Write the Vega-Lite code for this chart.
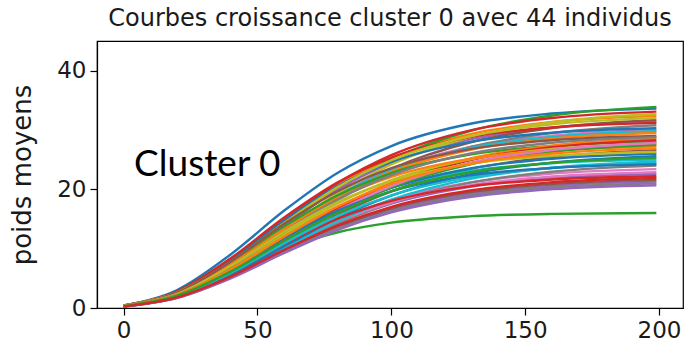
{
  "$schema": "https://vega.github.io/schema/vega-lite/v6.json",
  "width": 586,
  "height": 267,
  "autosize": {"type": "none"},
  "padding": {"left": 97, "top": 41, "right": 4, "bottom": 43},
  "background": "white",
  "title": {
    "text": "Courbes croissance cluster 0 avec 44 individus",
    "font": "DejaVu Sans",
    "fontSize": 24,
    "fontWeight": "normal",
    "color": "#1a1a1a",
    "anchor": "middle",
    "baseline": "alphabetic",
    "offset": 14,
    "dy": 23
  },
  "config": {
    "view": {"stroke": "black", "strokeWidth": 1.2},
    "axis": {
      "domainColor": "black",
      "domainWidth": 1.2,
      "tickColor": "black",
      "tickWidth": 1.2,
      "tickSize": 7,
      "labelFont": "DejaVu Sans",
      "labelFontSize": 23,
      "labelColor": "#1a1a1a",
      "labelPadding": 4,
      "grid": false,
      "titleFont": "DejaVu Sans",
      "titleFontWeight": "normal",
      "titleColor": "#1a1a1a"
    }
  },
  "datasets": {
    "courbes": [
      {"c":0,"t":0,"w":0.42},{"c":0,"t":20,"w":3.04},{"c":0,"t":40,"w":9.03},{"c":0,"t":60,"w":16.42},{"c":0,"t":80,"w":22.8},{"c":0,"t":100,"w":27.3},{"c":0,"t":130,"w":31.09},{"c":0,"t":160,"w":32.77},{"c":0,"t":199,"w":33.6},
      {"c":1,"t":0,"w":0.41},{"c":1,"t":20,"w":2.67},{"c":1,"t":40,"w":7.84},{"c":1,"t":60,"w":14.51},{"c":1,"t":80,"w":20.62},{"c":1,"t":100,"w":25.21},{"c":1,"t":130,"w":29.35},{"c":1,"t":160,"w":31.35},{"c":1,"t":199,"w":32.4},
      {"c":2,"t":0,"w":0.43},{"c":2,"t":20,"w":2.54},{"c":2,"t":40,"w":7.34},{"c":2,"t":60,"w":13.79},{"c":2,"t":80,"w":20.06},{"c":2,"t":100,"w":25.06},{"c":2,"t":130,"w":29.92},{"c":2,"t":160,"w":32.45},{"c":2,"t":199,"w":33.9},
      {"c":3,"t":0,"w":0.41},{"c":3,"t":20,"w":2.73},{"c":3,"t":40,"w":8.01},{"c":3,"t":60,"w":14.82},{"c":3,"t":80,"w":21.07},{"c":3,"t":100,"w":25.76},{"c":3,"t":130,"w":29.99},{"c":3,"t":160,"w":32.02},{"c":3,"t":199,"w":33.1},
      {"c":4,"t":0,"w":0.39},{"c":4,"t":20,"w":2.59},{"c":4,"t":40,"w":7.6},{"c":4,"t":60,"w":14.06},{"c":4,"t":80,"w":19.99},{"c":4,"t":100,"w":24.44},{"c":4,"t":130,"w":28.45},{"c":4,"t":160,"w":30.38},{"c":4,"t":199,"w":31.4},
      {"c":5,"t":0,"w":0.4},{"c":5,"t":20,"w":2.37},{"c":5,"t":40,"w":6.86},{"c":5,"t":60,"w":12.89},{"c":5,"t":80,"w":18.76},{"c":5,"t":100,"w":23.44},{"c":5,"t":130,"w":27.98},{"c":5,"t":160,"w":30.34},{"c":5,"t":199,"w":31.7},
      {"c":6,"t":0,"w":0.38},{"c":6,"t":20,"w":2.47},{"c":6,"t":40,"w":7.26},{"c":6,"t":60,"w":13.43},{"c":6,"t":80,"w":19.1},{"c":6,"t":100,"w":23.35},{"c":6,"t":130,"w":27.18},{"c":6,"t":160,"w":29.03},{"c":6,"t":199,"w":30.0},
      {"c":7,"t":0,"w":0.39},{"c":7,"t":20,"w":2.31},{"c":7,"t":40,"w":6.67},{"c":7,"t":60,"w":12.53},{"c":7,"t":80,"w":18.23},{"c":7,"t":100,"w":22.77},{"c":7,"t":130,"w":27.19},{"c":7,"t":160,"w":29.48},{"c":7,"t":199,"w":30.8},
      {"c":8,"t":0,"w":0.41},{"c":8,"t":20,"w":2.45},{"c":8,"t":40,"w":7.08},{"c":8,"t":60,"w":13.3},{"c":8,"t":80,"w":19.35},{"c":8,"t":100,"w":24.18},{"c":8,"t":130,"w":28.86},{"c":8,"t":160,"w":31.3},{"c":8,"t":199,"w":32.7},
      {"c":9,"t":0,"w":0.37},{"c":9,"t":20,"w":2.46},{"c":9,"t":40,"w":7.21},{"c":9,"t":60,"w":13.34},{"c":9,"t":80,"w":18.97},{"c":9,"t":100,"w":23.19},{"c":9,"t":130,"w":27.0},{"c":9,"t":160,"w":28.83},{"c":9,"t":199,"w":29.8},
      {"c":10,"t":0,"w":0.38},{"c":10,"t":20,"w":2.74},{"c":10,"t":40,"w":8.14},{"c":10,"t":60,"w":14.81},{"c":10,"t":80,"w":20.56},{"c":10,"t":100,"w":24.62},{"c":10,"t":130,"w":28.03},{"c":10,"t":160,"w":29.55},{"c":10,"t":199,"w":30.3},
      {"c":11,"t":0,"w":0.37},{"c":11,"t":20,"w":2.43},{"c":11,"t":40,"w":7.14},{"c":11,"t":60,"w":13.21},{"c":11,"t":80,"w":18.78},{"c":11,"t":100,"w":22.96},{"c":11,"t":130,"w":26.72},{"c":11,"t":160,"w":28.54},{"c":11,"t":199,"w":29.5},
      {"c":12,"t":0,"w":0.35},{"c":12,"t":20,"w":2.53},{"c":12,"t":40,"w":7.53},{"c":12,"t":60,"w":13.69},{"c":12,"t":80,"w":19.0},{"c":12,"t":100,"w":22.75},{"c":12,"t":130,"w":25.91},{"c":12,"t":160,"w":27.31},{"c":12,"t":199,"w":28.0},
      {"c":13,"t":0,"w":0.39},{"c":13,"t":20,"w":2.82},{"c":13,"t":40,"w":8.39},{"c":13,"t":60,"w":15.25},{"c":13,"t":80,"w":21.17},{"c":13,"t":100,"w":25.35},{"c":13,"t":130,"w":28.87},{"c":13,"t":160,"w":30.43},{"c":13,"t":199,"w":31.2},
      {"c":14,"t":0,"w":0.28},{"c":14,"t":20,"w":1.86},{"c":14,"t":40,"w":5.47},{"c":14,"t":60,"w":10.12},{"c":14,"t":80,"w":14.38},{"c":14,"t":100,"w":17.59},{"c":14,"t":130,"w":20.47},{"c":14,"t":160,"w":21.87},{"c":14,"t":199,"w":22.6},
      {"c":15,"t":0,"w":0.34},{"c":15,"t":20,"w":1.99},{"c":15,"t":40,"w":5.76},{"c":15,"t":60,"w":10.82},{"c":15,"t":80,"w":15.74},{"c":15,"t":100,"w":19.67},{"c":15,"t":130,"w":23.48},{"c":15,"t":160,"w":25.46},{"c":15,"t":199,"w":26.6},
      {"c":16,"t":0,"w":0.29},{"c":16,"t":20,"w":1.93},{"c":16,"t":40,"w":5.66},{"c":16,"t":60,"w":10.48},{"c":16,"t":80,"w":14.89},{"c":16,"t":100,"w":18.21},{"c":16,"t":130,"w":21.2},{"c":16,"t":160,"w":22.64},{"c":16,"t":199,"w":23.4},
      {"c":17,"t":0,"w":0.3},{"c":17,"t":20,"w":1.8},{"c":17,"t":40,"w":5.19},{"c":17,"t":60,"w":9.76},{"c":17,"t":80,"w":14.2},{"c":17,"t":100,"w":17.74},{"c":17,"t":130,"w":21.18},{"c":17,"t":160,"w":22.97},{"c":17,"t":199,"w":24.0},
      {"c":18,"t":0,"w":0.4},{"c":18,"t":20,"w":2.64},{"c":18,"t":40,"w":7.74},{"c":18,"t":60,"w":14.33},{"c":18,"t":80,"w":20.37},{"c":18,"t":100,"w":24.9},{"c":18,"t":130,"w":28.99},{"c":18,"t":160,"w":30.96},{"c":18,"t":199,"w":32.0},
      {"c":19,"t":0,"w":0.31},{"c":19,"t":20,"w":2.26},{"c":19,"t":40,"w":6.72},{"c":19,"t":60,"w":12.22},{"c":19,"t":80,"w":16.97},{"c":19,"t":100,"w":20.31},{"c":19,"t":130,"w":23.13},{"c":19,"t":160,"w":24.38},{"c":19,"t":199,"w":25.0},
      {"c":20,"t":0,"w":0.33},{"c":20,"t":20,"w":2.14},{"c":20,"t":40,"w":6.29},{"c":20,"t":60,"w":11.64},{"c":20,"t":80,"w":16.55},{"c":20,"t":100,"w":20.23},{"c":20,"t":130,"w":23.55},{"c":20,"t":160,"w":25.16},{"c":20,"t":199,"w":26.0},
      {"c":21,"t":0,"w":0.36},{"c":21,"t":20,"w":2.14},{"c":21,"t":40,"w":6.19},{"c":21,"t":60,"w":11.63},{"c":21,"t":80,"w":16.93},{"c":21,"t":100,"w":21.14},{"c":21,"t":130,"w":25.25},{"c":21,"t":160,"w":27.37},{"c":21,"t":199,"w":28.6},
      {"c":22,"t":0,"w":0.2},{"c":22,"t":20,"w":1.97},{"c":22,"t":40,"w":5.89},{"c":22,"t":60,"w":9.95},{"c":22,"t":80,"w":12.77},{"c":22,"t":100,"w":14.39},{"c":22,"t":130,"w":15.48},{"c":22,"t":160,"w":15.86},{"c":22,"t":199,"w":16.0},
      {"c":23,"t":0,"w":0.36},{"c":23,"t":20,"w":2.12},{"c":23,"t":40,"w":6.12},{"c":23,"t":60,"w":11.51},{"c":23,"t":80,"w":16.75},{"c":23,"t":100,"w":20.92},{"c":23,"t":130,"w":24.98},{"c":23,"t":160,"w":27.09},{"c":23,"t":199,"w":28.3},
      {"c":24,"t":0,"w":0.27},{"c":24,"t":20,"w":1.76},{"c":24,"t":40,"w":5.15},{"c":24,"t":60,"w":9.54},{"c":24,"t":80,"w":13.56},{"c":24,"t":100,"w":16.58},{"c":24,"t":130,"w":19.3},{"c":24,"t":160,"w":20.61},{"c":24,"t":199,"w":21.3},
      {"c":25,"t":0,"w":0.27},{"c":25,"t":20,"w":1.78},{"c":25,"t":40,"w":5.23},{"c":25,"t":60,"w":9.67},{"c":25,"t":80,"w":13.75},{"c":25,"t":100,"w":16.81},{"c":25,"t":130,"w":19.57},{"c":25,"t":160,"w":20.9},{"c":25,"t":199,"w":21.6},
      {"c":26,"t":0,"w":0.29},{"c":26,"t":20,"w":1.89},{"c":26,"t":40,"w":5.54},{"c":26,"t":60,"w":10.25},{"c":26,"t":80,"w":14.58},{"c":26,"t":100,"w":17.82},{"c":26,"t":130,"w":20.75},{"c":26,"t":160,"w":22.16},{"c":26,"t":199,"w":22.9},
      {"c":27,"t":0,"w":0.26},{"c":27,"t":20,"w":1.73},{"c":27,"t":40,"w":5.08},{"c":27,"t":60,"w":9.4},{"c":27,"t":80,"w":13.37},{"c":27,"t":100,"w":16.34},{"c":27,"t":130,"w":19.02},{"c":27,"t":160,"w":20.32},{"c":27,"t":199,"w":21.0},
      {"c":28,"t":0,"w":0.35},{"c":28,"t":20,"w":2.28},{"c":28,"t":40,"w":6.7},{"c":28,"t":60,"w":12.4},{"c":28,"t":80,"w":17.63},{"c":28,"t":100,"w":21.56},{"c":28,"t":130,"w":25.09},{"c":28,"t":160,"w":26.8},{"c":28,"t":199,"w":27.7},
      {"c":29,"t":0,"w":0.31},{"c":29,"t":20,"w":1.85},{"c":29,"t":40,"w":5.35},{"c":29,"t":60,"w":10.05},{"c":29,"t":80,"w":14.62},{"c":29,"t":100,"w":18.26},{"c":29,"t":130,"w":21.8},{"c":29,"t":160,"w":23.64},{"c":29,"t":199,"w":24.7},
      {"c":30,"t":0,"w":0.32},{"c":30,"t":20,"w":1.92},{"c":30,"t":40,"w":5.54},{"c":30,"t":60,"w":10.41},{"c":30,"t":80,"w":15.15},{"c":30,"t":100,"w":18.93},{"c":30,"t":130,"w":22.6},{"c":30,"t":160,"w":24.5},{"c":30,"t":199,"w":25.6},
      {"c":31,"t":0,"w":0.34},{"c":31,"t":20,"w":2.46},{"c":31,"t":40,"w":7.31},{"c":31,"t":60,"w":13.3},{"c":31,"t":80,"w":18.46},{"c":31,"t":100,"w":22.1},{"c":31,"t":130,"w":25.17},{"c":31,"t":160,"w":26.53},{"c":31,"t":199,"w":27.2},
      {"c":32,"t":0,"w":0.35},{"c":32,"t":20,"w":2.06},{"c":32,"t":40,"w":5.95},{"c":32,"t":60,"w":11.18},{"c":32,"t":80,"w":16.27},{"c":32,"t":100,"w":20.33},{"c":32,"t":130,"w":24.27},{"c":32,"t":160,"w":26.32},{"c":32,"t":199,"w":27.5},
      {"c":33,"t":0,"w":0.28},{"c":33,"t":20,"w":2.01},{"c":33,"t":40,"w":5.97},{"c":33,"t":60,"w":10.85},{"c":33,"t":80,"w":15.06},{"c":33,"t":100,"w":18.04},{"c":33,"t":130,"w":20.54},{"c":33,"t":160,"w":21.65},{"c":33,"t":199,"w":22.2},
      {"c":34,"t":0,"w":0.26},{"c":34,"t":20,"w":1.71},{"c":34,"t":40,"w":5.01},{"c":34,"t":60,"w":9.27},{"c":34,"t":80,"w":13.18},{"c":34,"t":100,"w":16.11},{"c":34,"t":130,"w":18.75},{"c":34,"t":160,"w":20.03},{"c":34,"t":199,"w":20.7},
      {"c":35,"t":0,"w":0.36},{"c":35,"t":20,"w":2.62},{"c":35,"t":40,"w":7.8},{"c":35,"t":60,"w":14.18},{"c":35,"t":80,"w":19.68},{"c":35,"t":100,"w":23.56},{"c":35,"t":130,"w":26.83},{"c":35,"t":160,"w":28.28},{"c":35,"t":199,"w":29.0},
      {"c":36,"t":0,"w":0.35},{"c":36,"t":20,"w":2.08},{"c":36,"t":40,"w":6.02},{"c":36,"t":60,"w":11.31},{"c":36,"t":80,"w":16.45},{"c":36,"t":100,"w":20.55},{"c":36,"t":130,"w":24.54},{"c":36,"t":160,"w":26.61},{"c":36,"t":199,"w":27.8},
      {"c":37,"t":0,"w":0.36},{"c":37,"t":20,"w":2.37},{"c":37,"t":40,"w":6.97},{"c":37,"t":60,"w":12.9},{"c":37,"t":80,"w":18.33},{"c":37,"t":100,"w":22.41},{"c":37,"t":130,"w":26.09},{"c":37,"t":160,"w":27.86},{"c":37,"t":199,"w":28.8},
      {"c":38,"t":0,"w":0.33},{"c":38,"t":20,"w":2.38},{"c":38,"t":40,"w":7.07},{"c":38,"t":60,"w":12.86},{"c":38,"t":80,"w":17.85},{"c":38,"t":100,"w":21.37},{"c":38,"t":130,"w":24.33},{"c":38,"t":160,"w":25.65},{"c":38,"t":199,"w":26.3},
      {"c":39,"t":0,"w":0.31},{"c":39,"t":20,"w":2.01},{"c":39,"t":40,"w":5.9},{"c":39,"t":60,"w":10.93},{"c":39,"t":80,"w":15.53},{"c":39,"t":100,"w":18.99},{"c":39,"t":130,"w":22.1},{"c":39,"t":160,"w":23.61},{"c":39,"t":199,"w":24.4},
      {"c":40,"t":0,"w":0.3},{"c":40,"t":20,"w":2.19},{"c":40,"t":40,"w":6.5},{"c":40,"t":60,"w":11.83},{"c":40,"t":80,"w":16.42},{"c":40,"t":100,"w":19.66},{"c":40,"t":130,"w":22.39},{"c":40,"t":160,"w":23.6},{"c":40,"t":199,"w":24.2},
      {"c":41,"t":0,"w":0.34},{"c":41,"t":20,"w":2.22},{"c":41,"t":40,"w":6.51},{"c":41,"t":60,"w":12.05},{"c":41,"t":80,"w":17.12},{"c":41,"t":100,"w":20.93},{"c":41,"t":130,"w":24.37},{"c":41,"t":160,"w":26.03},{"c":41,"t":199,"w":26.9},
      {"c":42,"t":0,"w":0.32},{"c":42,"t":20,"w":2.08},{"c":42,"t":40,"w":6.12},{"c":42,"t":60,"w":11.33},{"c":42,"t":80,"w":16.1},{"c":42,"t":100,"w":19.69},{"c":42,"t":130,"w":22.92},{"c":42,"t":160,"w":24.48},{"c":42,"t":199,"w":25.3},
      {"c":43,"t":0,"w":0.27},{"c":43,"t":20,"w":1.8},{"c":43,"t":40,"w":5.3},{"c":43,"t":60,"w":9.81},{"c":43,"t":80,"w":13.94},{"c":43,"t":100,"w":17.04},{"c":43,"t":130,"w":19.84},{"c":43,"t":160,"w":21.19},{"c":43,"t":199,"w":21.9}
    ]
  },
  "layer": [
    {
      "data": {"name": "courbes"},
      "mark": {"type": "line", "interpolate": "monotone", "strokeWidth": 2.4, "clip": true},
      "encoding": {
        "x": {
          "field": "t",
          "type": "quantitative",
          "scale": {"domain": [-9.95, 208.95], "nice": false, "zero": false},
          "axis": {"values": [0, 50, 100, 150, 200], "title": null}
        },
        "y": {
          "field": "w",
          "type": "quantitative",
          "scale": {"domain": [0, 45], "nice": false},
          "axis": {"values": [0, 20, 40], "title": "poids moyens", "titleFontSize": 26, "titlePadding": 21}
        },
        "color": {
          "field": "c",
          "type": "nominal",
          "sort": null,
          "legend": null,
          "scale": {"range": ["#1f77b4", "#ff7f0e", "#2ca02c", "#d62728", "#9467bd", "#8c564b", "#e377c2", "#7f7f7f", "#bcbd22", "#17becf"]}
        }
      }
    },
    {
      "data": {"values": [{"label": "Cluster 0", "t": 3.9, "w": 22.2}]},
      "mark": {"type": "text", "font": "Lato", "fontSize": 37, "align": "left", "baseline": "alphabetic", "color": "black"},
      "encoding": {
        "text": {"field": "label"},
        "x": {"field": "t", "type": "quantitative"},
        "y": {"field": "w", "type": "quantitative"}
      }
    }
  ]
}
